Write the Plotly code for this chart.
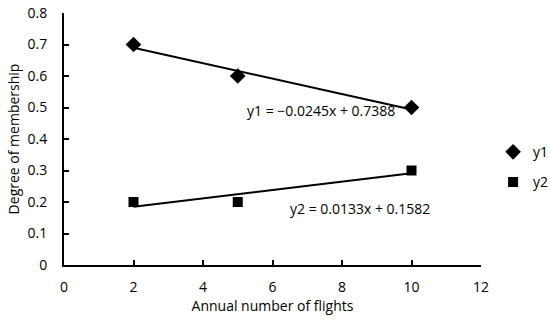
import plotly.graph_objects as go

x_flights = [2, 5, 10]
y1_values = [0.7, 0.6, 0.5]
y2_values = [0.2, 0.2, 0.3]
y1_fit = {"slope": -0.0245, "intercept": 0.7388, "label": "y1 = \u22120.0245x + 0.7388"}
y2_fit = {"slope": 0.0133, "intercept": 0.1582, "label": "y2 = 0.0133x + 0.1582"}
x_ticks = [0, 2, 4, 6, 8, 10, 12]
y_ticks = [0, 0.1, 0.2, 0.3, 0.4, 0.5, 0.6, 0.7, 0.8]

FONT = "Open Sans"
fx = [min(x_flights), max(x_flights)]

fig = go.Figure()
for fit in (y1_fit, y2_fit):
    fig.add_trace(go.Scatter(x=fx, y=[fit["slope"] * v + fit["intercept"] for v in fx],
                             mode="lines", line=dict(color="black", width=2),
                             showlegend=False, hoverinfo="skip"))
fig.add_trace(go.Scatter(x=x_flights, y=y1_values, mode="markers", name="y1", legendgroup="a",
                         marker=dict(symbol="diamond", size=12, color="black")))
fig.add_trace(go.Scatter(x=x_flights, y=y2_values, mode="markers", name="y2", legendgroup="b",
                         marker=dict(symbol="square", size=10, color="black")))

fig.add_annotation(x=7.4, y=0.49, text=y1_fit["label"], showarrow=False,
                   xanchor="center", yanchor="middle", font=dict(size=14, color="black", family=FONT))
fig.add_annotation(x=8.53, y=0.18, text=y2_fit["label"], showarrow=False,
                   xanchor="center", yanchor="middle", font=dict(size=14, color="black", family=FONT))

fig.update_layout(
    width=550, height=322,
    margin=dict(l=64, r=69, t=12.5, b=57, autoexpand=False),
    paper_bgcolor="white", plot_bgcolor="white",
    font=dict(family=FONT, size=14, color="black"),
    legend=dict(x=1.029, y=0.511, xanchor="left", yanchor="top",
                font=dict(size=14, family=FONT), traceorder="grouped", tracegroupgap=9,
                itemwidth=30, bgcolor="rgba(0,0,0,0)"),
    xaxis=dict(range=[0, 12], tickvals=x_ticks, showgrid=False, zeroline=False,
               showline=True, linecolor="black", linewidth=2, ticks="inside",
               ticklen=5, tickwidth=2, tickcolor="black", automargin=False,
               ticklabelstandoff=8, ticklabeloverflow="allow",
               title=dict(text="Annual number of flights", font=dict(size=14), standoff=6)),
    yaxis=dict(range=[0, 0.8], tickvals=y_ticks, ticktext=[f"{v:g}" for v in y_ticks],
               showgrid=False, zeroline=False, automargin=False,
               showline=True, linecolor="black", linewidth=2, ticks="inside",
               ticklen=5, tickwidth=2, tickcolor="black", ticklabelstandoff=12,
               ticklabeloverflow="allow",
               title=dict(text="Degree of membership", font=dict(size=14), standoff=5)),
)

fig.write_html("out.html", config={"displayModeBar": False},
               post_script="document.body.style.margin='0';")
